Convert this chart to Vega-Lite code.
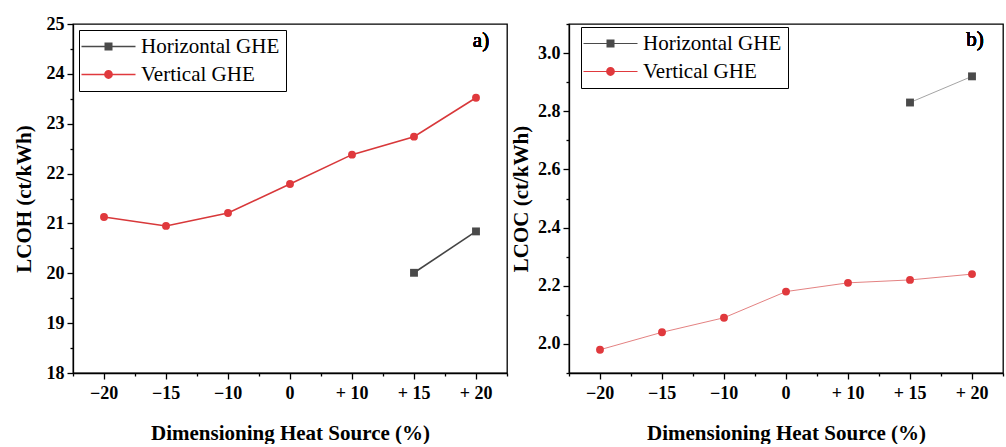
{
  "$schema": "https://vega.github.io/schema/vega-lite/v6.json",
  "background": "white",
  "padding": {"left": 12, "top": 14, "right": 0, "bottom": 0},
  "spacing": 0,
  "resolve": {"scale": {"color": "independent", "shape": "independent"}, "legend": {"color": "independent", "shape": "independent"}},
  "datasets": {
    "lcoh": [
      {"dim": "−20", "series": "Vertical GHE", "v": 21.13},
      {"dim": "−15", "series": "Vertical GHE", "v": 20.95},
      {"dim": "−10", "series": "Vertical GHE", "v": 21.21},
      {"dim": "0", "series": "Vertical GHE", "v": 21.79},
      {"dim": "+ 10", "series": "Vertical GHE", "v": 22.38},
      {"dim": "+ 15", "series": "Vertical GHE", "v": 22.74},
      {"dim": "+ 20", "series": "Vertical GHE", "v": 23.52},
      {"dim": "+ 15", "series": "Horizontal GHE", "v": 20.01},
      {"dim": "+ 20", "series": "Horizontal GHE", "v": 20.84}
    ],
    "lcoc": [
      {"dim": "−20", "series": "Vertical GHE", "v": 1.98},
      {"dim": "−15", "series": "Vertical GHE", "v": 2.04},
      {"dim": "−10", "series": "Vertical GHE", "v": 2.09},
      {"dim": "0", "series": "Vertical GHE", "v": 2.18},
      {"dim": "+ 10", "series": "Vertical GHE", "v": 2.21},
      {"dim": "+ 15", "series": "Vertical GHE", "v": 2.22},
      {"dim": "+ 20", "series": "Vertical GHE", "v": 2.24},
      {"dim": "+ 15", "series": "Horizontal GHE", "v": 2.83},
      {"dim": "+ 20", "series": "Horizontal GHE", "v": 2.92}
    ]
  },
  "config": {
    "view": {"stroke": "black", "strokeWidth": 1.3},
    "font": "Liberation Serif",
    "axis": {
      "domainColor": "black", "domainWidth": 1.3,
      "tickColor": "black", "tickWidth": 1.3,
      "labelColor": "black", "labelFont": "Liberation Serif", "labelFontSize": 18, "labelFontWeight": "bold",
      "titleFont": "Liberation Serif", "titleFontSize": 21, "titleFontWeight": "bold", "titleColor": "black",
      "grid": false, "labelOverlap": false
    },
    "legend": {
      "labelFont": "Liberation Serif", "labelFontSize": 21, "labelColor": "black",
      "strokeColor": "black", "fillColor": "white", "padding": 6, "rowPadding": 6,
      "symbolSize": 64, "symbolOffset": 13, "labelOffset": 22, "symbolStrokeWidth": 0
    }
  },
  "hconcat": [
    {
      "width": 434, "height": 349,
      "data": {"name": "lcoh"},
      "layer": [
        {
          "transform": [{"filter": "datum.series === 'Vertical GHE'"}],
          "mark": {"type": "line", "strokeWidth": 1.6, "color": "#d8383a"},
          "encoding": {
            "x": {"field": "dim", "type": "ordinal",
                  "scale": {"type": "band", "domain": ["−20","−15","−10","0","+ 10","+ 15","+ 20"], "paddingInner": 0, "paddingOuter": 0},
                  "axis": {"title": "Dimensioning Heat Source (%)", "labelAngle": 0, "tickSize": 6, "labelPadding": 5, "titlePadding": 20}},
            "y": {"field": "v", "type": "quantitative", "scale": {"domain": [18, 25], "nice": false, "zero": false},
                  "axis": {"title": "LCOH (ct/kWh)", "values": [18,19,20,21,22,23,24,25], "tickSize": 6, "labelPadding": 3, "titlePadding": 12}}
          }
        },
        {
          "transform": [{"filter": "datum.series === 'Horizontal GHE'"}],
          "mark": {"type": "line", "strokeWidth": 1.6, "color": "#444444"},
          "encoding": {
            "x": {"field": "dim", "type": "ordinal", "axis": null},
            "y": {"field": "v", "type": "quantitative", "axis": null}
          }
        },
        {
          "transform": [{"filter": "datum.series === 'Horizontal GHE'"}],
          "mark": {"type": "point", "shape": "square", "filled": true, "opacity": 1, "size": 62, "color": "#4a4a4a"},
          "encoding": {
            "x": {"field": "dim", "type": "ordinal",
                  "axis": {"orient": "bottom", "tickBand": "extent", "labels": false, "domain": false, "title": null, "tickSize": 3}},
            "y": {"field": "v", "type": "quantitative",
                  "axis": {"orient": "left", "values": [18.5,19.5,20.5,21.5,22.5,23.5,24.5], "labels": false, "domain": false, "title": null, "tickSize": 3}}
          }
        },
        {
          "transform": [{"filter": "datum.series === 'Vertical GHE'"}],
          "mark": {"type": "point", "shape": "circle", "filled": true, "opacity": 1, "size": 62, "color": "#e0393d"},
          "encoding": {
            "x": {"field": "dim", "type": "ordinal", "axis": null},
            "y": {"field": "v", "type": "quantitative", "axis": null}
          }
        },
        {
          "transform": [{"filter": "false"}],
          "mark": {"type": "point", "filled": true, "opacity": 1},
          "encoding": {
            "x": {"field": "dim", "type": "ordinal", "axis": null},
            "y": {"field": "v", "type": "quantitative", "axis": null},
            "color": {"field": "series", "type": "nominal", "scale": {"domain": ["Horizontal GHE","Vertical GHE"], "range": ["#4a4a4a","#e0393d"]},
                     "legend": {"title": null, "orient": "none", "legendX": 6, "legendY": 6}},
            "shape": {"field": "series", "type": "nominal",
                      "scale": {"domain": ["Horizontal GHE","Vertical GHE"], "range": ["M-6.75,-0.2H6.75V0.2H-6.75ZM-1,-1H1V1H-1Z", "M-6.75,-0.2H6.75V0.2H-6.75ZM1.1,0A1.1,1.1,0,1,1,-1.1,0A1.1,1.1,0,1,1,1.1,0Z"]},
                      "legend": {"title": null, "orient": "none", "legendX": 6, "legendY": 6}}
          }
        },
        {
          "mark": {"type": "text", "fontSize": 21, "font": "Liberation Serif", "fontWeight": 400, "color": "black", "baseline": "middle", "align": "center", "dx": 5},
          "encoding": {
            "x": {"datum": "+ 20", "type": "ordinal", "axis": null},
            "y": {"datum": 24.65, "type": "quantitative", "axis": null},
            "text": {"value": "a)"}
          }
        }
      ],
      "resolve": {"axis": {"x": "independent", "y": "independent"}}
    },
    {
      "width": 434, "height": 349,
      "data": {"name": "lcoc"},
      "layer": [
        {
          "transform": [{"filter": "datum.series === 'Vertical GHE'"}],
          "mark": {"type": "line", "strokeWidth": 0.9, "color": "#e07373"},
          "encoding": {
            "x": {"field": "dim", "type": "ordinal",
                  "scale": {"type": "band", "domain": ["−20","−15","−10","0","+ 10","+ 15","+ 20"], "paddingInner": 0, "paddingOuter": 0},
                  "axis": {"title": "Dimensioning Heat Source (%)", "labelAngle": 0, "tickSize": 6, "labelPadding": 5, "titlePadding": 20}},
            "y": {"field": "v", "type": "quantitative", "scale": {"domain": [1.9, 3.1], "nice": false, "zero": false},
                  "axis": {"title": "LCOC (ct/kWh)", "values": [2.0,2.2,2.4,2.6,2.8,3.0], "format": ".1f", "tickSize": 6, "labelPadding": 3, "titlePadding": 6}}
          }
        },
        {
          "transform": [{"filter": "datum.series === 'Horizontal GHE'"}],
          "mark": {"type": "line", "strokeWidth": 0.9, "color": "#9a9a9a"},
          "encoding": {
            "x": {"field": "dim", "type": "ordinal", "axis": null},
            "y": {"field": "v", "type": "quantitative", "axis": null}
          }
        },
        {
          "transform": [{"filter": "datum.series === 'Horizontal GHE'"}],
          "mark": {"type": "point", "shape": "square", "filled": true, "opacity": 1, "size": 62, "color": "#4a4a4a"},
          "encoding": {
            "x": {"field": "dim", "type": "ordinal",
                  "axis": {"orient": "bottom", "tickBand": "extent", "labels": false, "domain": false, "title": null, "tickSize": 3}},
            "y": {"field": "v", "type": "quantitative",
                  "axis": {"orient": "left", "values": [1.9,2.1,2.3,2.5,2.7,2.9,3.1], "labels": false, "domain": false, "title": null, "tickSize": 3}}
          }
        },
        {
          "transform": [{"filter": "datum.series === 'Vertical GHE'"}],
          "mark": {"type": "point", "shape": "circle", "filled": true, "opacity": 1, "size": 62, "color": "#e0393d"},
          "encoding": {
            "x": {"field": "dim", "type": "ordinal", "axis": null},
            "y": {"field": "v", "type": "quantitative", "axis": null}
          }
        },
        {
          "transform": [{"filter": "false"}],
          "mark": {"type": "point", "filled": true, "opacity": 1},
          "encoding": {
            "x": {"field": "dim", "type": "ordinal", "axis": null},
            "y": {"field": "v", "type": "quantitative", "axis": null},
            "color": {"field": "series", "type": "nominal", "scale": {"domain": ["Horizontal GHE","Vertical GHE"], "range": ["#4a4a4a","#e0393d"]},
                     "legend": {"title": null, "orient": "none", "legendX": 12, "legendY": 3}},
            "shape": {"field": "series", "type": "nominal",
                      "scale": {"domain": ["Horizontal GHE","Vertical GHE"], "range": ["M-6.75,-0.1H6.75V0.1H-6.75ZM-1,-1H1V1H-1Z", "M-6.75,-0.1H6.75V0.1H-6.75ZM1.1,0A1.1,1.1,0,1,1,-1.1,0A1.1,1.1,0,1,1,1.1,0Z"]},
                      "legend": {"title": null, "orient": "none", "legendX": 12, "legendY": 3}}
          }
        },
        {
          "mark": {"type": "text", "fontSize": 21, "font": "Liberation Serif", "fontWeight": 400, "color": "black", "baseline": "middle", "align": "center", "dx": 3},
          "encoding": {
            "x": {"datum": "+ 20", "type": "ordinal", "axis": null},
            "y": {"datum": 3.044, "type": "quantitative", "axis": null},
            "text": {"value": "b)"}
          }
        }
      ],
      "resolve": {"axis": {"x": "independent", "y": "independent"}}
    }
  ]
}
